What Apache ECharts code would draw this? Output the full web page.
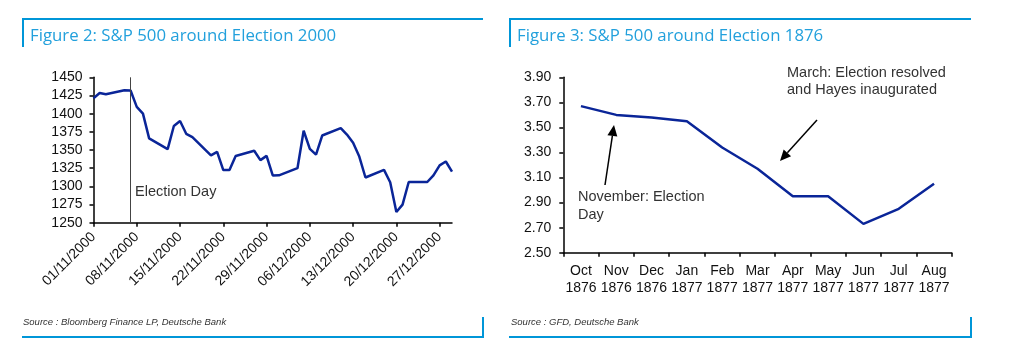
<!DOCTYPE html>
<html>
<head>
<meta charset="utf-8">
<script src="https://cdn.jsdelivr.net/npm/echarts@6/dist/echarts.min.js"></script>
<style>
  html, body { margin: 0; padding: 0; background: #fff; }
  #chart { width: 1010px; height: 351px; }
</style>
</head>
<body>
<div id="chart"></div>
<script>
// --- Figure 2: S&P 500 daily closes around the 2000 election ---
var dates2000 = [
  '2000-11-01', '2000-11-02', '2000-11-03', '2000-11-06', '2000-11-07', '2000-11-08',
  '2000-11-09', '2000-11-10', '2000-11-13', '2000-11-14', '2000-11-15', '2000-11-16',
  '2000-11-17', '2000-11-20', '2000-11-21', '2000-11-22', '2000-11-23', '2000-11-24',
  '2000-11-27', '2000-11-28', '2000-11-29', '2000-11-30', '2000-12-01', '2000-12-04',
  '2000-12-05', '2000-12-06', '2000-12-07', '2000-12-08', '2000-12-11', '2000-12-12',
  '2000-12-13', '2000-12-14', '2000-12-15', '2000-12-18', '2000-12-19', '2000-12-20',
  '2000-12-21', '2000-12-22', '2000-12-25', '2000-12-26', '2000-12-27', '2000-12-28',
  '2000-12-29'
];
var spx2000 = [
  1421.2, 1428.3, 1426.7, 1432.2, 1431.9, 1409.3,
  1400.1, 1366.0, 1351.3, 1383.0, 1389.8, 1372.3,
  1367.7, 1342.6, 1347.4, 1322.4, 1322.4, 1341.8,
  1349.0, 1336.1, 1341.9, 1315.0, 1315.2, 1325.0,
  1376.5, 1351.5, 1343.6, 1369.9, 1380.2, 1371.2,
  1360.0, 1340.9, 1312.2, 1322.7, 1305.6, 1264.7,
  1274.9, 1306.0, 1306.0, 1315.2, 1328.9, 1334.2,
  1320.3
];
var dateTicks2000 = ['01/11/2000', '08/11/2000', '15/11/2000', '22/11/2000', '29/11/2000',
  '06/12/2000', '13/12/2000', '20/12/2000', '27/12/2000'];
var startDay2000 = '2000-11-01';
var endDay2000 = '2000-12-29';
var electionDay2000 = '2000-11-07';

// --- Figure 3: S&P 500 (monthly) around the 1876 election ---
var months1876 = ['Oct\n1876', 'Nov\n1876', 'Dec\n1876', 'Jan\n1877', 'Feb\n1877', 'Mar\n1877',
  'Apr\n1877', 'May\n1877', 'Jun\n1877', 'Jul\n1877', 'Aug\n1877'];
var spx1876 = [3.67, 3.60, 3.58, 3.55, 3.34, 3.17, 2.95, 2.95, 2.73, 2.85, 3.05];
var yTicks1876 = [2.50, 2.70, 2.90, 3.10, 3.30, 3.50, 3.70, 3.90];

(function() {
  var lineBlue = '#0a2598';
  var frameBlue = '#0096d8';
  var titleBlue = '#22a0dc';
  var ink = '#111';
  var font = '"Liberation Sans", Arial, sans-serif';
  var titleFont = '"Open Sans", "Liberation Sans", sans-serif';

  function dayIndex(d) {
    return Math.round((Date.parse(d) - Date.parse(startDay2000)) / 86400000);
  }
  var tickDays = dateTicks2000.map(function(t, i) { return i * 7; });

  var axisLine = { show: true, lineStyle: { color: '#000', width: 1.5 } };
  function ticks(custom) {
    var t = { show: true, length: 4, lineStyle: { color: '#000', width: 1.5 } };
    if (custom) t.customValues = custom;
    return t;
  }

  function arrow(x1, y1, x2, y2) {
    var a = Math.atan2(y2 - y1, x2 - x1);
    var L = 11, W = 5;
    var bx = x2 - L * Math.cos(a), by = y2 - L * Math.sin(a);
    var px = -Math.sin(a) * W, py = Math.cos(a) * W;
    return [
      { type: 'line', shape: { x1: x1, y1: y1, x2: bx, y2: by }, style: { stroke: '#000', lineWidth: 1.5 } },
      { type: 'polygon', shape: { points: [[x2, y2], [bx + px, by + py], [bx - px, by - py]] }, style: { fill: '#000' } }
    ];
  }

  function frame(x1, x2) {
    var s = { stroke: frameBlue, lineWidth: 2 };
    return [
      { type: 'line', shape: { x1: x1, y1: 19, x2: x2, y2: 19 }, style: s },
      { type: 'line', shape: { x1: x1 + 1, y1: 19, x2: x1 + 1, y2: 47 }, style: s },
      { type: 'line', shape: { x1: x1, y1: 337, x2: x2 + 1, y2: 337 }, style: s },
      { type: 'line', shape: { x1: x2, y1: 317, x2: x2, y2: 337 }, style: s }
    ];
  }

  function text(x, y, str, extra) {
    var st = { text: str, x: x, y: y, fill: '#333', font: '14.5px ' + font, verticalAlign: 'middle' };
    for (var k in extra) st[k] = extra[k];
    return { type: 'text', style: st };
  }

  var graphics = []
    .concat(frame(22, 483))
    .concat(frame(509, 971))
    .concat([
      text(30, 36, 'Figure 2: S&P 500 around Election 2000', { fill: titleBlue, font: '16.8px ' + titleFont }),
      text(517, 36, 'Figure 3: S&P 500 around Election 1876', { fill: titleBlue, font: '16.8px ' + titleFont }),
      text(23, 322, 'Source : Bloomberg Finance LP, Deutsche Bank', { font: 'italic 9.5px ' + font }),
      text(511, 322, 'Source : GFD, Deutsche Bank', { font: 'italic 9.5px ' + font }),
      text(135, 192, 'Election Day'),
      text(578, 188, 'November: Election\nDay', { verticalAlign: 'top', lineHeight: 18 }),
      text(787, 64, 'March: Election resolved\nand Hayes inaugurated', { verticalAlign: 'top', lineHeight: 17.5 })
    ])
    .concat(arrow(605, 185, 614, 125))
    .concat(arrow(817, 120, 780, 161));

  var chart = echarts.init(document.getElementById('chart'), null, { renderer: 'canvas' });
  chart.setOption({
    animation: false,
    textStyle: { fontFamily: font },
    grid: [
      { left: 93.5, top: 77.3, width: 358.5, height: 145.4 },
      { left: 563.3, top: 77.3, width: 388.4, height: 175.4 }
    ],
    xAxis: [{
      gridIndex: 0,
      type: 'value',
      min: 0,
      max: dayIndex(endDay2000),
      axisLine: axisLine,
      axisTick: ticks(tickDays),
      splitLine: { show: false },
      axisLabel: {
        customValues: tickDays,
        rotate: 45,
        margin: 12,
        color: ink,
        fontSize: 14,
        formatter: function(v) { return dateTicks2000[Math.round(v / 7)]; }
      }
    }, {
      gridIndex: 1,
      type: 'category',
      data: months1876,
      boundaryGap: true,
      axisLine: axisLine,
      axisTick: ticks(),
      axisLabel: { interval: 0, color: ink, fontSize: 14, lineHeight: 17, margin: 10 }
    }],
    yAxis: [{
      gridIndex: 0,
      type: 'value',
      min: 1250,
      max: 1450,
      interval: 25,
      axisLine: axisLine,
      axisTick: ticks(),
      splitLine: { show: false },
      axisLabel: { color: ink, fontSize: 14, margin: 11, formatter: function(v) { return String(v); } }
    }, {
      gridIndex: 1,
      type: 'value',
      min: 2.5,
      max: 3.9,
      axisLine: axisLine,
      axisTick: ticks(yTicks1876),
      splitLine: { show: false },
      axisLabel: {
        customValues: yTicks1876,
        color: ink,
        fontSize: 14,
        margin: 12,
        formatter: function(v) { return v.toFixed(2); }
      }
    }],
    series: [{
      type: 'line',
      xAxisIndex: 0,
      yAxisIndex: 0,
      showSymbol: false,
      lineStyle: { color: lineBlue, width: 2.5 },
      data: dates2000.map(function(d, i) { return [dayIndex(d), spx2000[i]]; }),
      markLine: {
        silent: true,
        symbol: ['none', 'none'],
        label: { show: false },
        lineStyle: { color: '#444', width: 1, type: 'solid' },
        data: [{ xAxis: dayIndex(electionDay2000) }]
      }
    }, {
      type: 'line',
      xAxisIndex: 1,
      yAxisIndex: 1,
      showSymbol: false,
      lineStyle: { color: lineBlue, width: 2.5 },
      data: spx1876
    }],
    graphic: graphics
  });
})();
</script>
</body>
</html>
